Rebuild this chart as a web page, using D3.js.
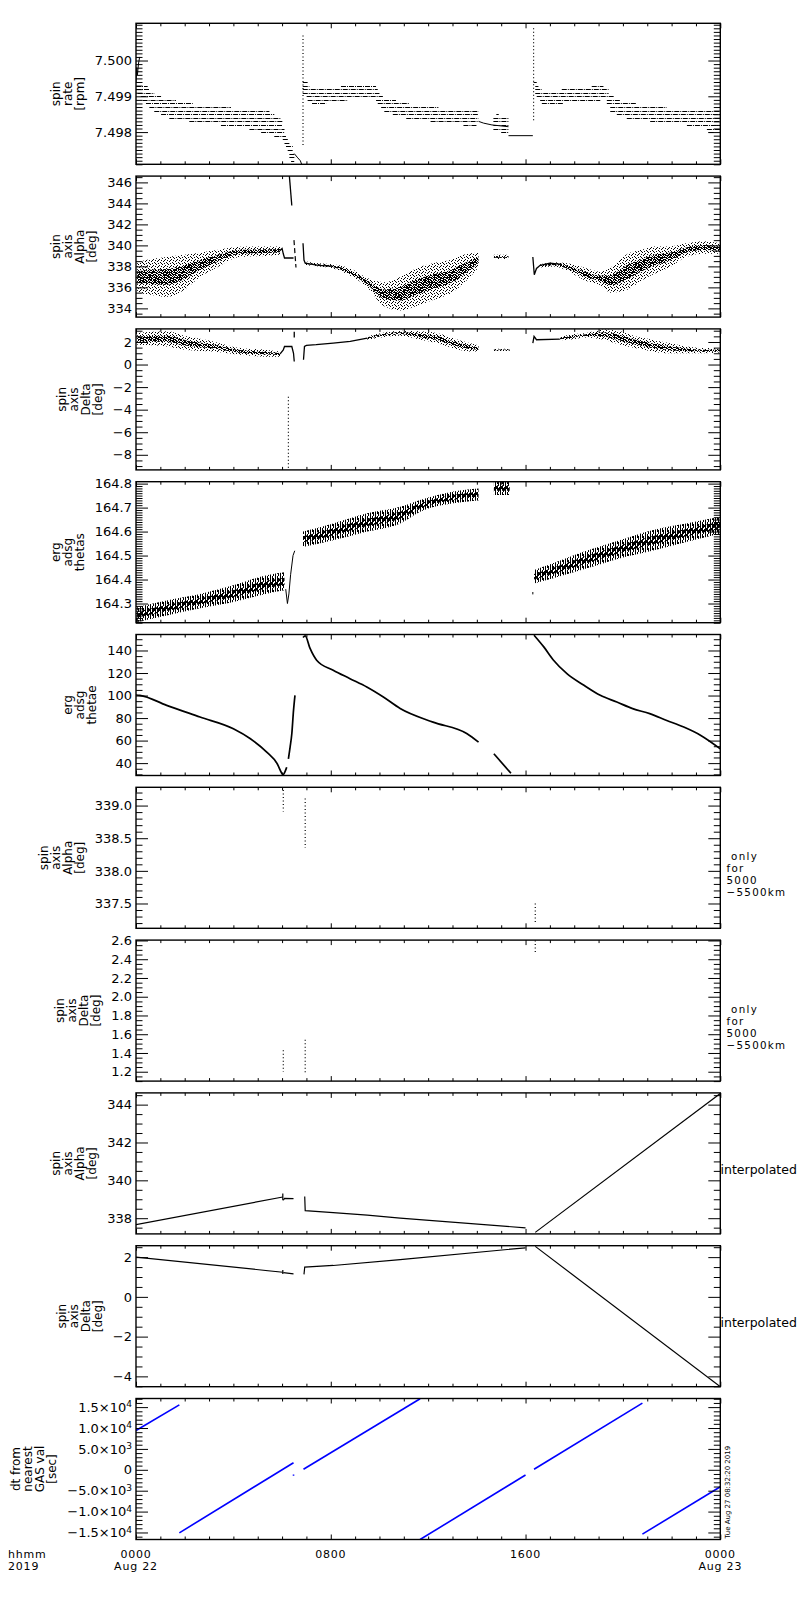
<!DOCTYPE html>
<html>
<head>
<meta charset="utf-8">
<script src="https://cdn.jsdelivr.net/npm/d3@7"></script>
<style>
  body { margin: 0; background: #fff; }
  text { font-family: "DejaVu Sans", sans-serif; fill: #000; }
  .tick text { font-size: 13px; }
  .ytitle { font-size: 12px; }
  .side { font-size: 10.3px; letter-spacing: 1.3px; white-space: pre; }
  .side1 { font-size: 12.5px; }
  .xlab { font-size: 11px; letter-spacing: 0.8px; }
</style>
</head>
<body>
<script>
// ERG spin axis summary, 2019-08-22 00:00 to 2019-08-23 00:00 UT (time in hours)

var hourTicks = [0, 8, 16, 24];
var hourLabels = ["0000", "0800", "1600", "0000"];
var dayLabels = ["Aug 22", "", "", "Aug 23"];

// panel 1 - spin rate [rpm], quantised levels drawn as runs: [level, t start, t end]
var rateRuns = [
  [7.4993, 0.00, 0.48], [7.4992, 0.00, 0.55], [7.4991, 0.07, 0.75], [7.4990, 0.20, 1.03],
  [7.4989, 0.27, 1.64], [7.4988, 0.41, 2.33], [7.4987, 0.55, 3.90], [7.4986, 0.75, 5.48],
  [7.4985, 1.03, 5.68], [7.4984, 1.37, 5.96], [7.4983, 2.19, 6.03], [7.4982, 3.49, 6.03],
  [7.4981, 4.66, 6.10], [7.4980, 5.14, 6.10], [7.4979, 5.68, 6.16], [7.4978, 6.03, 6.27],
  [7.4977, 6.10, 6.30], [7.4976, 6.16, 6.44], [7.4975, 6.23, 6.44], [7.4974, 6.30, 6.50],
  [7.4973, 6.30, 6.55], [7.4972, 6.37, 6.50],
  [7.4994, 6.85, 7.05], [7.4993, 6.85, 7.12], [7.4993, 8.42, 9.86], [7.4992, 6.85, 9.93],
  [7.4991, 6.85, 10.00], [7.4990, 7.01, 10.14], [7.4989, 7.05, 8.70], [7.4989, 9.86, 10.68],
  [7.4988, 7.23, 7.81], [7.4988, 9.93, 11.23], [7.4987, 10.07, 12.42], [7.4986, 10.20, 14.07],
  [7.4985, 10.55, 14.07], [7.4984, 11.10, 14.07], [7.4983, 12.10, 14.07], [7.4982, 13.45, 14.00],
  [7.4985, 14.80, 14.90], [7.4984, 14.68, 15.30], [7.4983, 14.68, 15.30], [7.4982, 14.68, 15.30],
  [7.4981, 14.68, 15.30], [7.4980, 15.00, 15.30],
  [7.4994, 16.33, 16.46], [7.4993, 16.40, 16.53], [7.4993, 18.72, 19.20], [7.4992, 16.40, 16.67],
  [7.4992, 17.49, 19.41], [7.4991, 16.40, 19.41], [7.4990, 16.46, 19.62], [7.4989, 16.60, 19.07],
  [7.4989, 19.34, 19.89], [7.4988, 16.67, 17.56], [7.4988, 19.34, 20.57], [7.4987, 19.48, 21.80],
  [7.4986, 19.48, 24.00], [7.4985, 19.75, 24.00], [7.4984, 20.16, 24.00], [7.4983, 21.12, 24.00],
  [7.4982, 22.63, 24.00], [7.4981, 23.45, 24.00], [7.4980, 23.52, 23.73]
];
var rateLines = [
  [[0.00, 7.4994], [0.03, 7.4998], [0.06, 7.4996], [0.10, 7.4999], [0.15, 7.5001]],
  [[6.50, 7.4974], [6.62, 7.4973], [6.75, 7.4972], [6.86, 7.4970]],
  [[14.07, 7.4983], [14.28, 7.49825], [14.62, 7.4982], [15.30, 7.49815]],
  [[15.30, 7.4979], [16.30, 7.4979]]
];
var rateSpikes = [[6.86, 7.5007, 7.4976], [16.33, 7.5009, 7.4983]];
var rateTicks = [7.498, 7.499, 7.500];

// panel 2 - spin axis alpha [deg]; scatter clouds as [t, low, high]
var alphaBands = [
  [[0.05, 335.5, 338.4], [0.6, 335.3, 338.7], [1.26, 335.1, 338.9], [2.0, 335.8, 339.1],
   [2.63, 337.0, 339.3], [3.32, 337.9, 339.55], [4.27, 338.9, 339.87], [5.37, 339.0, 339.9],
   [5.92, 339.1, 339.9]],
  [[6.95, 338.1, 338.5], [7.5, 338.0, 338.3], [8.1, 337.8, 338.2], [8.8, 337.1, 337.8],
   [9.5, 336.0, 336.9], [10.2, 334.2, 336.5], [10.85, 333.8, 337.0], [11.5, 334.2, 337.8],
   [12.2, 334.8, 338.3], [12.9, 335.4, 338.6], [13.6, 336.7, 339.2], [14.07, 337.9, 339.3]],
  [[14.7, 338.7, 339.1], [15.3, 338.7, 339.1]],
  [[16.6, 337.9, 338.2], [17.2, 338.0, 338.4], [17.7, 337.6, 338.3], [18.4, 336.7, 337.9],
   [19.07, 336.2, 337.5], [19.5, 335.5, 337.9], [20.2, 335.8, 339.2], [20.8, 336.7, 339.6],
   [21.3, 337.3, 339.9], [21.9, 337.9, 339.9], [22.6, 338.9, 340.2], [23.3, 339.2, 340.4],
   [24.0, 339.2, 340.2]]
];
var alphaLines = [
  [[5.90, 339.5], [6.00, 339.7], [6.05, 339.2], [6.10, 338.8], [6.47, 338.8]],
  [[6.30, 346.6], [6.40, 343.8]],
  [[6.86, 340.2], [6.90, 338.6], [6.95, 338.3], [7.5, 338.1], [8.1, 338.0]],
  [[16.30, 338.9], [16.36, 337.2], [16.45, 337.8], [16.6, 338.1], [17.0, 338.3], [17.5, 338.2]]
];
var alphaDashes = [[6.53, 340.5, 337.9]];
var alphaTicks = [334, 336, 338, 340, 342, 344, 346];

// panel 3 - spin axis delta [deg]
var deltaBands = [
  [[0.05, 1.76, 2.8], [1.26, 1.6, 2.95], [2.08, 1.3, 2.5], [3.17, 1.16, 2.05],
   [4.27, 0.87, 1.46], [5.37, 0.7, 1.3], [5.92, 0.7, 1.16]],
  [[9.5, 2.2, 2.5], [10.2, 2.45, 2.85], [10.85, 2.55, 3.0], [11.67, 2.2, 2.95],
   [12.35, 1.9, 2.8], [13.0, 1.46, 2.36], [13.7, 1.16, 1.9], [14.07, 1.16, 1.7]],
  [[14.7, 1.2, 1.4], [15.35, 1.2, 1.4]],
  [[17.4, 2.15, 2.45], [17.8, 2.2, 2.65], [18.5, 2.4, 2.8], [19.2, 2.2, 3.1],
   [19.9, 1.75, 2.95], [20.5, 1.46, 2.5], [21.2, 1.16, 2.2], [21.9, 1.0, 1.9],
   [22.6, 1.0, 1.6], [23.3, 1.0, 1.46], [24.0, 1.07, 1.46]]
];
var deltaLines = [
  [[5.92, 0.95], [6.05, 1.3], [6.10, 1.6], [6.40, 1.6], [6.47, 1.0], [6.50, 0.27]],
  [[6.88, 0.42], [6.92, 1.6], [7.0, 1.7], [7.4, 1.76], [8.1, 1.9], [8.8, 2.05], [9.5, 2.35]],
  [[16.30, 1.9], [16.35, 2.5], [16.45, 2.2], [17.4, 2.25]],
  [[6.50, 2.4], [6.50, 2.9]]
];
var deltaDots = [[6.26, -2.86, -9.34]];
var deltaTicks = [-8, -6, -4, -2, 0, 2];

// panel 4 - erg adsg thetas
var thetasBands = [
  [[0.05, 164.223, 164.285], [1.26, 164.25, 164.313], [2.63, 164.28, 164.34],
   [4.0, 164.306, 164.376], [5.37, 164.341, 164.418], [6.1, 164.355, 164.43]],
  [[6.86, 164.536, 164.6], [8.1, 164.564, 164.634], [9.5, 164.6, 164.676],
   [10.85, 164.634, 164.704], [11.67, 164.683, 164.732], [13.04, 164.718, 164.767],
   [14.07, 164.73, 164.78]],
  [[14.7, 164.753, 164.81], [15.35, 164.753, 164.81]],
  [[16.35, 164.383, 164.44], [17.1, 164.404, 164.467], [18.5, 164.446, 164.52],
   [19.86, 164.488, 164.564], [21.2, 164.52, 164.606], [22.6, 164.557, 164.634],
   [24.0, 164.592, 164.662]]
];
var thetasLines = [
  [[6.15, 164.36], [6.22, 164.30], [6.28, 164.34], [6.35, 164.42], [6.45, 164.50], [6.52, 164.52]],
  [[16.30, 164.338], [16.30, 164.348]]
];
var thetasTicks = [164.3, 164.4, 164.5, 164.6, 164.7, 164.8];

// panel 5 - erg adsg thetae
var thetaeLines = [
  [[0.0, 100.5], [0.16, 100.2], [1.26, 91.3], [2.63, 80.9], [4.0, 70.5], [4.7, 61.6],
   [5.37, 49.7], [5.8, 39.4], [6.0, 30.5], [6.03, 29.5], [6.15, 34.0], [6.19, 36.4]],
  [[6.26, 43.8], [6.33, 54.2], [6.40, 66.1], [6.47, 86.8], [6.53, 100.2]],
  [[6.86, 151.5], [6.95, 153.0], [7.15, 141.8], [7.42, 131.4], [8.1, 122.5], [8.79, 115.0],
   [9.48, 107.6], [10.16, 98.7], [10.85, 88.5], [12.2, 76.4], [13.6, 66.1], [14.07, 58.6]],
  [[14.7, 48.3], [15.4, 31.0]],
  [[16.35, 153.6], [16.75, 143.2], [17.15, 131.4], [17.7, 119.5], [18.4, 109.1],
   [19.07, 100.2], [19.75, 94.2], [20.4, 88.4], [21.1, 83.9], [21.8, 77.9], [22.5, 72.0],
   [23.2, 64.6], [24.0, 52.7]]
];
var thetaeTicks = [40, 60, 80, 100, 120, 140];

// panels 6/7 - spin axis only for 5000-5500 km: [t, top, bottom]
var alphaShellDots = [[6.05, 339.24, 338.91], [6.95, 339.11, 338.35], [16.4, 337.5, 337.19]];
var alphaShellTicks = [337.5, 338.0, 338.5, 339.0];
var deltaShellDots = [[6.05, 1.43, 1.2], [6.95, 1.54, 1.18], [16.4, 2.6, 2.47]];
var deltaShellTicks = [1.2, 1.4, 1.6, 1.8, 2.0, 2.2, 2.4, 2.6];

// panels 8/9 - interpolated spin axis
var alphaInterpLines = [
  [[0.0, 337.66], [6.03, 339.12]],
  [[6.03, 338.95], [6.03, 339.3]],
  [[6.05, 338.95], [6.10, 339.05], [6.47, 339.03]],
  [[6.93, 339.15], [6.95, 338.4], [8.1, 338.29], [9.5, 338.16], [10.85, 338.0], [16.0, 337.49]],
  [[16.4, 337.25], [24.0, 344.59]]
];
var alphaInterpTicks = [338, 340, 342, 344];
var deltaInterpLines = [
  [[0.0, 2.0], [6.03, 1.24]],
  [[6.03, 1.15], [6.03, 1.35]],
  [[6.05, 1.22], [6.47, 1.16]],
  [[6.90, 1.13], [6.93, 1.5], [8.1, 1.58], [10.85, 1.87], [16.0, 2.47]],
  [[16.4, 2.54], [24.0, -4.52]]
];
var deltaInterpTicks = [-4, -2, 0, 2];

// panel 10 - dt from nearest GAS value [sec]
var dtLines = [
  [[0.0, 9400], [1.78, 15550]],
  [[1.78, -15090], [6.47, 1700]],
  [[6.47, -1100], [6.47, -1400]],
  [[6.88, 120], [11.67, 17000]],
  [[11.67, -16680], [16.0, -1250]],
  [[16.35, 120], [20.8, 15960]],
  [[20.8, -15400], [24.0, -4050]]
];
var dtTicks = [-15000, -10000, -5000, 0, 5000, 10000, 15000];

var W = 800, H = 1600;
var left = 136, right = 720.3, top0 = 23.3, step = 152.8, panelH = 141;

var svg = d3.select("body").append("svg")
    .attr("width", W)
    .attr("height", H);

svg.append("rect")
    .attr("width", W)
    .attr("height", H)
    .attr("fill", "white");

var defs = svg.append("defs");

// fill tiles that mimic the pixel scatter of the original plot
function addPattern(id, w, h, rects) {
  var p = defs.append("pattern")
      .attr("id", id)
      .attr("patternUnits", "userSpaceOnUse")
      .attr("width", w)
      .attr("height", h);
  rects.forEach(function(r) {
    p.append("rect").attr("x", r[0]).attr("y", r[1])
      .attr("width", r[2] || 1).attr("height", r[3] || 1).attr("fill", "black");
  });
}
addPattern("sparse", 6, 6, [[0, 0], [3, 1], [5, 2], [1, 3], [4, 4], [2, 5], [5, 5], [2, 2]]);
addPattern("dense", 5, 5, [[0, 0], [1, 0], [3, 0], [2, 1], [4, 1], [0, 2], [1, 2], [3, 2], [4, 2],
                           [1, 3], [2, 3], [0, 4], [3, 4], [4, 4]]);
addPattern("hatch", 5, 6, [[0, 0, 1, 6], [2, 0, 1, 4], [3, 2, 1, 4]]);
addPattern("hatch2", 5, 6, [[0, 0, 1, 6], [1, 0, 1, 3], [2, 0, 1, 6], [4, 1, 1, 4]]);

var x = d3.scaleLinear().domain([0, 24]).range([left, right]);

function sciLabel(d) {
  if (d === 0) return {m: "0", e: ""};
  var e = Math.floor(Math.log10(Math.abs(d)) + 1e-9);
  return {m: d3.format(".1f")(d / Math.pow(10, e)) + "\u00d710", e: String(e)};
}

var shellNote = [" only", "for", "5000", "\u22125500km"];

var panels = [
  {title: ["spin", "rate", "[rpm]"], domain: [7.49710, 7.50104], ticks: rateTicks, minor: 0.0001,
   fmt: d3.format(".3f"), runs: rateRuns, lines: rateLines, dots: rateSpikes, lw: 1},
  {title: ["spin", "axis", "Alpha", "[deg]"], domain: [333.17, 346.6], ticks: alphaTicks, minor: 0.5,
   fmt: d3.format("d"), bands: alphaBands, bandFill: ["sparse", "dense"], lines: alphaLines, dash: alphaDashes, lw: 1.3},
  {title: ["spin", "axis", "Delta", "[deg]"], domain: [-9.34, 3.16], ticks: deltaTicks, minor: 0.5,
   fmt: d3.format("d"), bands: deltaBands, bandFill: ["sparse", "dense"], lines: deltaLines, dots: deltaDots, lw: 1.3},
  {title: ["erg", "adsg", "thetas"], domain: [164.22, 164.808], ticks: thetasTicks, minor: 0.01,
   fmt: d3.format(".1f"), bands: thetasBands, bandFill: ["hatch", "hatch2"], lines: thetasLines, lw: 1},
  {title: ["erg", "adsg", "thetae"], domain: [29.0, 154.2], ticks: thetaeTicks, minor: 5,
   fmt: d3.format("d"), lines: thetaeLines, lw: 1.7, smooth: true},
  {title: ["spin", "axis", "Alpha", "[deg]"], domain: [337.12, 339.28], ticks: alphaShellTicks, minor: 0.1,
   fmt: d3.format(".1f"), dots: alphaShellDots, side: shellNote},
  {title: ["spin", "axis", "Delta", "[deg]"], domain: [1.10, 2.604], ticks: deltaShellTicks, minor: 0.05,
   fmt: d3.format(".1f"), dots: deltaShellDots, side: shellNote},
  {title: ["spin", "axis", "Alpha", "[deg]"], domain: [337.17, 344.62], ticks: alphaInterpTicks, minor: 0.5,
   fmt: d3.format("d"), lines: alphaInterpLines, lw: 1.2, side: ["interpolated"]},
  {title: ["spin", "axis", "Delta", "[deg]"], domain: [-4.52, 2.575], ticks: deltaInterpTicks, minor: 0.5,
   fmt: d3.format("d"), lines: deltaInterpLines, lw: 1.2, side: ["interpolated"]},
  {title: ["dt from", "nearest", "GAS val", "[sec]"], domain: [-16680, 17064], ticks: dtTicks, minor: 1000,
   sci: true, lines: dtLines, lw: 1.6, color: "#0000ff"}
];

var minorHours = d3.range(0, 25).filter(function(h) { return hourTicks.indexOf(h) < 0; });

panels.forEach(function(p, i) {
  var top = top0 + i * step;
  var bottom = top + panelH;
  var y = d3.scaleLinear().domain(p.domain).range([bottom, top]);
  var col = p.color || "black";
  var g = svg.append("g");

  defs.append("clipPath").attr("id", "clip" + i)
    .append("rect").attr("x", left).attr("y", top)
    .attr("width", right - left).attr("height", panelH);
  var marks = g.append("g").attr("clip-path", "url(#clip" + i + ")");

  // scatter clouds: outer envelope plus denser core
  (p.bands || []).forEach(function(b) {
    marks.append("path")
      .attr("d", d3.area().curve(d3.curveMonotoneX).x(function(d) { return x(d[0]); })
        .y0(function(d) { return y(d[1]); }).y1(function(d) { return y(d[2]); })(b))
      .attr("fill", "url(#" + p.bandFill[0] + ")");
    marks.append("path")
      .attr("d", d3.area().curve(d3.curveMonotoneX).x(function(d) { return x(d[0]); })
        .y0(function(d) { return y(d[1] + (d[2] - d[1]) * 0.3); })
        .y1(function(d) { return y(d[2] - (d[2] - d[1]) * 0.3); })(b))
      .attr("fill", "url(#" + p.bandFill[1] + ")");
  });

  // quantised runs
  (p.runs || []).forEach(function(r) {
    marks.append("line")
      .attr("x1", x(r[1])).attr("x2", x(r[2]))
      .attr("y1", Math.round(y(r[0])) + 0.5).attr("y2", Math.round(y(r[0])) + 0.5)
      .attr("stroke", "black").attr("stroke-width", 1)
      .attr("stroke-dasharray", "5,1,1,1");
  });

  // connected curves
  var line = d3.line().x(function(d) { return x(d[0]); }).y(function(d) { return y(d[1]); });
  if (p.smooth) line.curve(d3.curveMonotoneX);
  (p.lines || []).forEach(function(l) {
    marks.append("path")
      .attr("d", line(l))
      .attr("fill", "none")
      .attr("stroke", col)
      .attr("stroke-width", p.lw);
  });

  // dotted vertical point columns
  (p.dots || []).forEach(function(s) {
    marks.append("line")
      .attr("x1", x(s[0])).attr("x2", x(s[0]))
      .attr("y1", y(s[1])).attr("y2", y(s[2]))
      .attr("stroke", "black").attr("stroke-width", 1.2)
      .attr("stroke-dasharray", "1,2.5");
  });
  (p.dash || []).forEach(function(s) {
    marks.append("line")
      .attr("x1", x(s[0]) - 1).attr("x2", x(s[0]) + 1)
      .attr("y1", y(s[1])).attr("y2", y(s[2]))
      .attr("stroke", "black").attr("stroke-width", 1.2)
      .attr("stroke-dasharray", "5,3");
  });

  // frame
  g.append("rect")
    .attr("x", left).attr("y", top)
    .attr("width", right - left).attr("height", panelH)
    .attr("fill", "none").attr("stroke", "black").attr("stroke-width", 1.4);

  // y axes: majors with labels, minors, mirrored on the right
  var minorVals = d3.range(Math.ceil(p.domain[0] / p.minor) * p.minor, p.domain[1], p.minor)
    .filter(function(v) {
      return !p.ticks.some(function(t) { return Math.abs(t - v) < p.minor / 100; });
    });

  var yl = g.append("g").attr("transform", "translate(" + left + ",0)")
    .call(d3.axisLeft(y).tickValues(p.ticks).tickSize(-12).tickPadding(4)
      .tickFormat(p.sci ? function() { return ""; } : p.fmt));
  yl.select(".domain").remove();
  if (p.sci) {
    yl.selectAll(".tick text").each(function(d) {
      var s = sciLabel(d);
      var t = d3.select(this);
      t.append("tspan").text(s.m);
      if (s.e) t.append("tspan").attr("dy", "-0.5em").style("font-size", "9px").text(s.e);
    });
  }
  g.append("g").attr("transform", "translate(" + left + ",0)")
    .call(d3.axisLeft(y).tickValues(minorVals).tickSize(-6.5).tickFormat(""))
    .select(".domain").remove();
  g.append("g").attr("transform", "translate(" + right + ",0)")
    .call(d3.axisRight(y).tickValues(p.ticks).tickSize(-12).tickFormat(""))
    .select(".domain").remove();
  g.append("g").attr("transform", "translate(" + right + ",0)")
    .call(d3.axisRight(y).tickValues(minorVals).tickSize(-6.5).tickFormat(""))
    .select(".domain").remove();

  // x ticks top and bottom
  [[bottom, d3.axisBottom], [top, d3.axisTop]].forEach(function(a) {
    g.append("g").attr("transform", "translate(0," + a[0] + ")")
      .call(a[1](x).tickValues(hourTicks).tickSize(-5).tickFormat(""))
      .select(".domain").remove();
    g.append("g").attr("transform", "translate(0," + a[0] + ")")
      .call(a[1](x).tickValues(minorHours).tickSize(-3).tickFormat(""))
      .select(".domain").remove();
  });

  // y title, last line just left of the tick labels
  var labelLeft = d3.min(yl.selectAll(".tick text").nodes(), function(n) { return n.getBBox().x; }) + left;
  var lastBase = labelLeft - 11;
  var yc = (top + bottom) / 2;
  p.title.forEach(function(s, k) {
    var xb = lastBase - (p.title.length - 1 - k) * 12;
    g.append("text")
      .attr("class", "ytitle")
      .attr("transform", "translate(" + xb + "," + yc + ") rotate(-90)")
      .attr("text-anchor", "middle")
      .text(s);
  });

  // right-side note
  if (p.side) {
    var multi = p.side.length > 1;
    p.side.forEach(function(s, k) {
      g.append("text")
        .attr("class", multi ? "side" : "side1")
        .attr("x", multi ? 726.5 : 720.5)
        .attr("y", (multi ? yc + 2 : yc + 11) + k * 12)
        .text(s);
    });
  }
});

// time labels under the last panel
var lastBottom = top0 + 9 * step + panelH;
hourTicks.forEach(function(h, k) {
  svg.append("text").attr("class", "xlab")
    .attr("x", x(h)).attr("y", lastBottom + 18)
    .attr("text-anchor", "middle").text(hourLabels[k]);
  if (dayLabels[k]) {
    svg.append("text").attr("class", "xlab")
      .attr("x", x(h)).attr("y", lastBottom + 30.8)
      .attr("text-anchor", "middle").text(dayLabels[k]);
  }
});
svg.append("text").attr("class", "xlab")
  .attr("x", 8).attr("y", lastBottom + 18).text("hhmm");
svg.append("text").attr("class", "xlab")
  .attr("x", 8).attr("y", lastBottom + 30.8).text("2019");

// creation stamp
svg.append("text")
  .attr("transform", "translate(729.5," + (lastBottom - 1) + ") rotate(-90)")
  .style("font-size", "7px")
  .text("Tue Aug 27 08:32:20 2019");
</script>
</body>
</html>
